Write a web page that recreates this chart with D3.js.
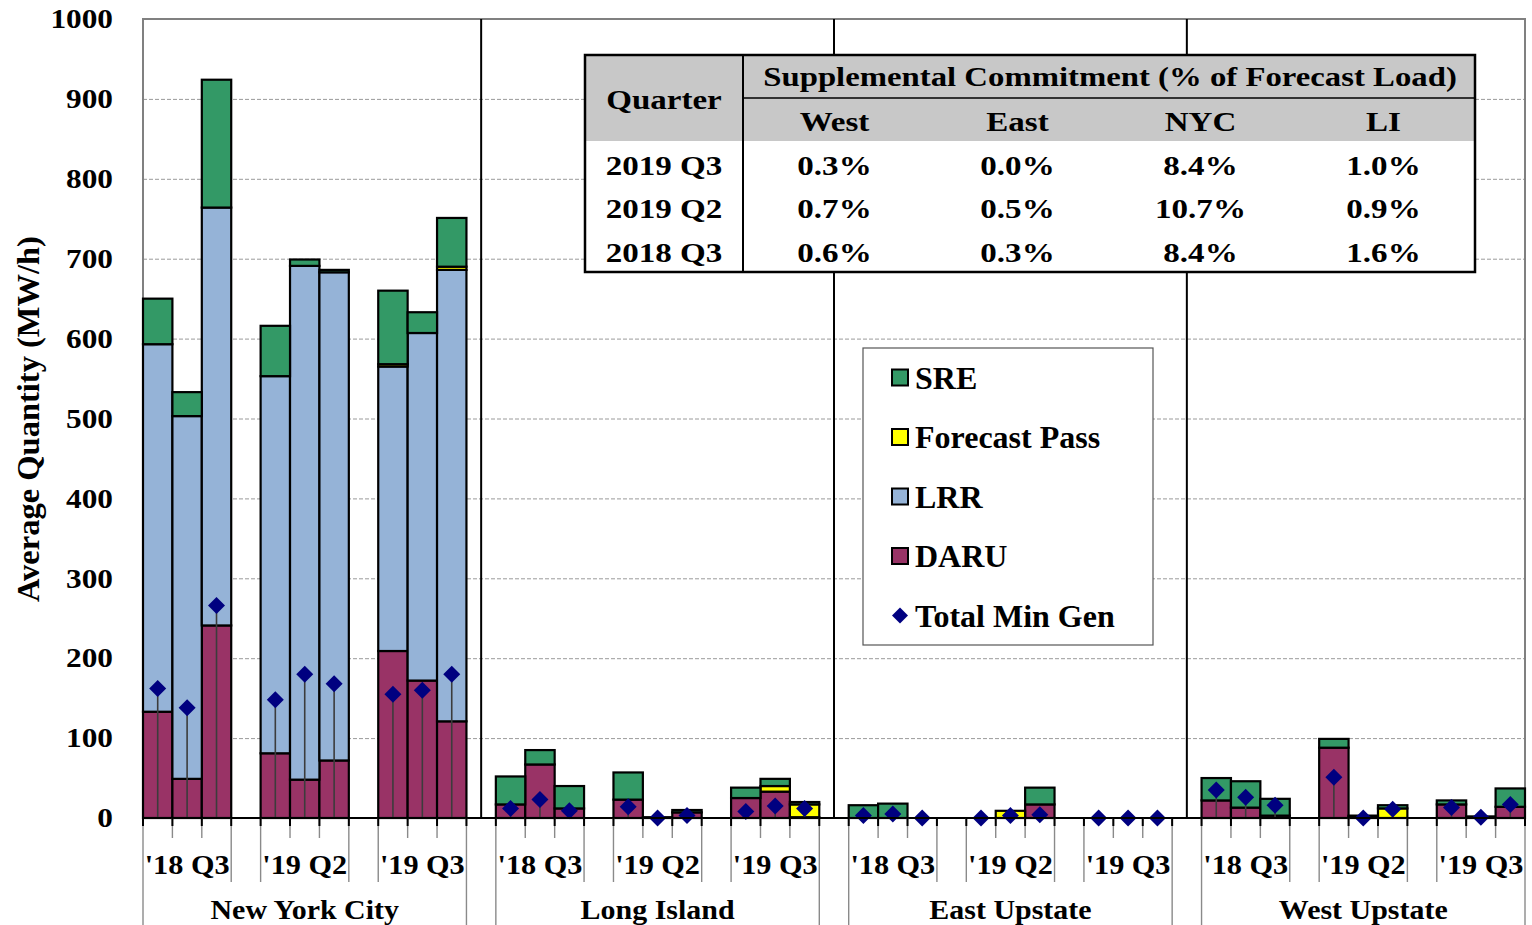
<!DOCTYPE html>
<html>
<head>
<meta charset="utf-8">
<script src="https://cdn.jsdelivr.net/npm/d3@7"></script>
<style>
  html, body { margin: 0; padding: 0; background: #fff; }
  svg { display: block; }
  text { font-family: "Liberation Serif", "Times New Roman", serif; font-weight: bold; fill: #000; }
</style>
</head>
<body>
<svg id="chart" width="1532" height="925"></svg>
<script>
// ---- Data -------------------------------------------------------------
const regions  = ["New York City", "Long Island", "East Upstate", "West Upstate"];
const quarters = ["'18 Q3", "'19 Q2", "'19 Q3"];

// Three bars per quarter, nine per region (MW/h)
const daru         = [133, 49, 241,  81, 48, 72,  209, 172, 121,
                       17, 67, 12,   23,  1,  7,   25,  33,   1,
                        0,  0,  0,    0,  0, 17,    0,   0,   0,
                       22, 13,  3,   88,  2,  0,   17,   2,  14];
const lrr          = [460, 454, 523, 472, 643, 611, 356, 435, 565,
                        0,   0,   0,   0,   0,   0,   0,   0,   0,
                        0,   0,   0,   0,   0,   0,   0,   0,   0,
                        0,   0,   0,   0,   0,   0,   0,   0,   0];
const forecastPass = [  0,  0,  0,   0,  0,  0,   3,  0,  4,
                        0,  0,  0,   0,  0,  0,   0,  7, 16,
                        0,  0,  0,   0,  9,  0,   0,  0,  0,
                        0,  0,  0,   0,  0, 12,   0,  0,  0];
const sre          = [ 57, 30, 160,  63,  8,  3,  92, 26, 61,
                       35, 18,  28,  34,  0,  3,  13,  9,  3,
                       16, 18,   0,   0,  0, 21,   0,  0,  0,
                       28, 33,  21,  11,  1,  4,   5,  0, 23];
const totalMinGen  = [162, 138, 266, 148, 180, 168, 155, 160, 180,
                       12,  23,   9,  14,   0,   3,   8,  15,  12,
                        3,   5,   0,   0,   3,   4,   0,   0,   0,
                       35,  26,  16,  51,   0,  11,  13,   1,  17];

const yTicks = [0, 100, 200, 300, 400, 500, 600, 700, 800, 900, 1000];

// Supplemental commitment table
const tableRegions = ["West", "East", "NYC", "LI"];
const tableQuarters = ["2019 Q3", "2019 Q2", "2018 Q3"];
const tableValues = [
  ["0.3%", "0.0%", "8.4%", "1.0%"],
  ["0.7%", "0.5%", "10.7%", "0.9%"],
  ["0.6%", "0.3%", "8.4%", "1.6%"]
];

const seriesKeys = ["DARU", "LRR", "Forecast Pass", "SRE"];
const colors = { "SRE": "#339966", "Forecast Pass": "#FFFF00", "LRR": "#95B3D7", "DARU": "#993366" };
const markerColor = "#000080";

// ---- Layout -------------------------------------------------------------
const svg = d3.select("#chart");
const plot = { left: 143, right: 1525, top: 19, bottom: 818 };
const slotsPerRegion = 12;           // 3 groups of 3 bars, 2 inner gaps, 1 gap between regions
const nSlots = regions.length * slotsPerRegion - 1;

const x = d3.scaleBand().domain(d3.range(nSlots)).range([plot.left, plot.right]).padding(0);
const y = d3.scaleLinear().domain([0, 1000]).range([plot.bottom, plot.top]);
const bw = x.bandwidth();

const rows = daru.map((d, i) => {
  const r = Math.floor(i / 9), q = Math.floor((i % 9) / 3), b = i % 3;
  return {
    slot: r * slotsPerRegion + q * 4 + b,
    "DARU": d, "LRR": lrr[i], "Forecast Pass": forecastPass[i], "SRE": sre[i],
    minGen: totalMinGen[i]
  };
});

// text placed with a slight horizontal stretch
function stretchedText(sel, tx, ty, str, size, sx, anchor) {
  return sel.append("text")
    .attr("transform", `translate(${tx},${ty}) scale(${sx},1)`)
    .attr("text-anchor", anchor || "middle")
    .attr("dominant-baseline", "central")
    .style("font-size", size + "px")
    .text(str);
}

// ---- Gridlines ------------------------------------------------------------
svg.append("g")
  .attr("transform", `translate(${plot.left},0)`)
  .call(d3.axisLeft(y).tickValues(yTicks.filter(t => t > 0 && t < 1000))
        .tickSize(-(plot.right - plot.left)).tickFormat(""))
  .call(g => g.select(".domain").remove())
  .call(g => g.selectAll(".tick line")
        .attr("stroke", "#9a9a9a").attr("stroke-width", 1).attr("stroke-dasharray", "4,2"));

// plot frame (top / right / left)
svg.append("path")
  .attr("d", `M${plot.left},${plot.bottom} V${plot.top} H${plot.right} V${plot.bottom}`)
  .attr("fill", "none").attr("stroke", "#808080").attr("stroke-width", 2);

// region separators
const regionSep = regions.slice(1).map((_, i) => x((i + 1) * slotsPerRegion - 1) + bw / 2);
svg.append("g").selectAll("line").data(regionSep).join("line")
  .attr("x1", d => d).attr("x2", d => d)
  .attr("y1", plot.top).attr("y2", plot.bottom)
  .attr("stroke", "#000").attr("stroke-width", 2);

// ---- Stacked bars ---------------------------------------------------------
const stacked = d3.stack().keys(seriesKeys)(rows);
svg.append("g").selectAll("g").data(stacked).join("g")
  .attr("fill", d => colors[d.key])
  .selectAll("rect").data(d => d.filter(s => s[1] - s[0] > 0)).join("rect")
  .attr("x", d => x(d.data.slot))
  .attr("width", bw)
  .attr("y", d => y(d[1]))
  .attr("height", d => y(d[0]) - y(d[1]))
  .attr("stroke", "#000").attr("stroke-width", 2.2);

// ---- Total Min Gen: drop lines + diamonds ---------------------------------
svg.append("g").selectAll("line").data(rows.filter(d => d.minGen > 0)).join("line")
  .attr("x1", d => x(d.slot) + bw / 2).attr("x2", d => x(d.slot) + bw / 2)
  .attr("y1", d => y(d.minGen)).attr("y2", y(0))
  .attr("stroke", "#3c3c3c").attr("stroke-width", 1.6);

const dia = 8.5;
svg.append("g").selectAll("path").data(rows).join("path")
  .attr("d", d => {
    const cx = x(d.slot) + bw / 2, cy = y(d.minGen);
    return `M${cx},${cy - dia}L${cx + dia},${cy}L${cx},${cy + dia}L${cx - dia},${cy}Z`;
  })
  .attr("fill", markerColor);

// ---- X axis -----------------------------------------------------------------
svg.append("line")
  .attr("x1", plot.left).attr("x2", plot.right)
  .attr("y1", plot.bottom).attr("y2", plot.bottom)
  .attr("stroke", "#000").attr("stroke-width", 2);

const edges = d3.range(nSlots + 1).map(k => {
  const m = k % slotsPerRegion;
  const level = (m === 0 || m === 11) ? 2 : (m === 3 || m === 4 || m === 7 || m === 8) ? 1 : 0;
  return { x: plot.left + k * bw, level };
});
const lineEnd = [838, 882, 925];
svg.append("g").selectAll("line").data(edges).join("line")
  .attr("x1", d => d.x).attr("x2", d => d.x)
  .attr("y1", plot.bottom).attr("y2", d => lineEnd[d.level])
  .attr("stroke", "#8a8a8a").attr("stroke-width", 1.4);
svg.append("g").selectAll("line").data(edges).join("line")
  .attr("x1", d => d.x).attr("x2", d => d.x)
  .attr("y1", plot.bottom).attr("y2", plot.bottom + 8)
  .attr("stroke", "#000").attr("stroke-width", 2);

const xLabels = svg.append("g");
regions.forEach((reg, r) => {
  quarters.forEach((q, qi) => {
    const s = r * slotsPerRegion + qi * 4 + 1;
    stretchedText(xLabels, x(s) + bw / 2, 864, q, 28, 1.08);
  });
  const mid = r * slotsPerRegion + 5;
  stretchedText(xLabels, x(mid) + bw / 2, 909, reg, 28, 1.07);
});

// ---- Y axis -----------------------------------------------------------------
const yLabels = svg.append("g");
yTicks.forEach(t => stretchedText(yLabels, 113, y(t), String(t), 27, 1.16, "end"));

svg.append("text")
  .attr("transform", `translate(28,${(238 + 600) / 2}) rotate(-90)`)
  .attr("text-anchor", "middle")
  .attr("dominant-baseline", "central")
  .style("font-size", "32.5px")
  .text("Average Quantity (MW/h)");

// ---- Table ------------------------------------------------------------------
const tb = { x0: 585, x1: 1475, y0: 55, y1: 272, colQ: 743, hRow: 98, hEnd: 141 };
const tg = svg.append("g");
tg.append("rect").attr("x", tb.x0).attr("y", tb.y0).attr("width", tb.x1 - tb.x0).attr("height", tb.y1 - tb.y0)
  .attr("fill", "#fff");
tg.append("rect").attr("x", tb.x0).attr("y", tb.y0).attr("width", tb.x1 - tb.x0).attr("height", tb.hEnd - tb.y0)
  .attr("fill", "#c8c8c8");
tg.append("line").attr("x1", tb.colQ).attr("x2", tb.x1).attr("y1", tb.hRow).attr("y2", tb.hRow)
  .attr("stroke", "#000").attr("stroke-width", 1.5);
tg.append("line").attr("x1", tb.colQ).attr("x2", tb.colQ).attr("y1", tb.y0).attr("y2", tb.y1)
  .attr("stroke", "#000").attr("stroke-width", 2);
tg.append("rect").attr("x", tb.x0).attr("y", tb.y0).attr("width", tb.x1 - tb.x0).attr("height", tb.y1 - tb.y0)
  .attr("fill", "none").attr("stroke", "#000").attr("stroke-width", 2.5);

const colW = (tb.x1 - tb.colQ) / tableRegions.length;
const tSize = 28, tSx = 1.18;
stretchedText(tg, (tb.x0 + tb.colQ) / 2, 100, "Quarter", tSize, tSx);
stretchedText(tg, (tb.colQ + tb.x1) / 2 + 1, 77, "Supplemental Commitment (% of Forecast Load)", tSize, 1.17);
tableRegions.forEach((c, i) => stretchedText(tg, tb.colQ + colW * (i + 0.5), 122, c, tSize, tSx));
const rowY = [166, 209, 253];
tableQuarters.forEach((q, ri) => {
  stretchedText(tg, (tb.x0 + tb.colQ) / 2, rowY[ri], q, tSize, tSx);
  tableValues[ri].forEach((v, ci) => stretchedText(tg, tb.colQ + colW * (ci + 0.5), rowY[ri], v, tSize, tSx));
});

// ---- Legend -------------------------------------------------------------------
const lg = svg.append("g");
lg.append("rect").attr("x", 863).attr("y", 348).attr("width", 290).attr("height", 297)
  .attr("fill", "#fff").attr("stroke", "#555").attr("stroke-width", 1.2);
const legendItems = ["SRE", "Forecast Pass", "LRR", "DARU", "Total Min Gen"];
legendItems.forEach((name, i) => {
  const cy = 377.5 + i * 59.5;
  if (colors[name]) {
    lg.append("rect").attr("x", 892).attr("y", cy - 8).attr("width", 16).attr("height", 16)
      .attr("fill", colors[name]).attr("stroke", "#000").attr("stroke-width", 2);
  } else {
    lg.append("path")
      .attr("d", `M900,${cy - 8}L908,${cy}L900,${cy + 8}L892,${cy}Z`)
      .attr("fill", markerColor);
  }
  lg.append("text").attr("x", 915).attr("y", cy).attr("dominant-baseline", "central")
    .style("font-size", "32px").text(name);
});
</script>
</body>
</html>
